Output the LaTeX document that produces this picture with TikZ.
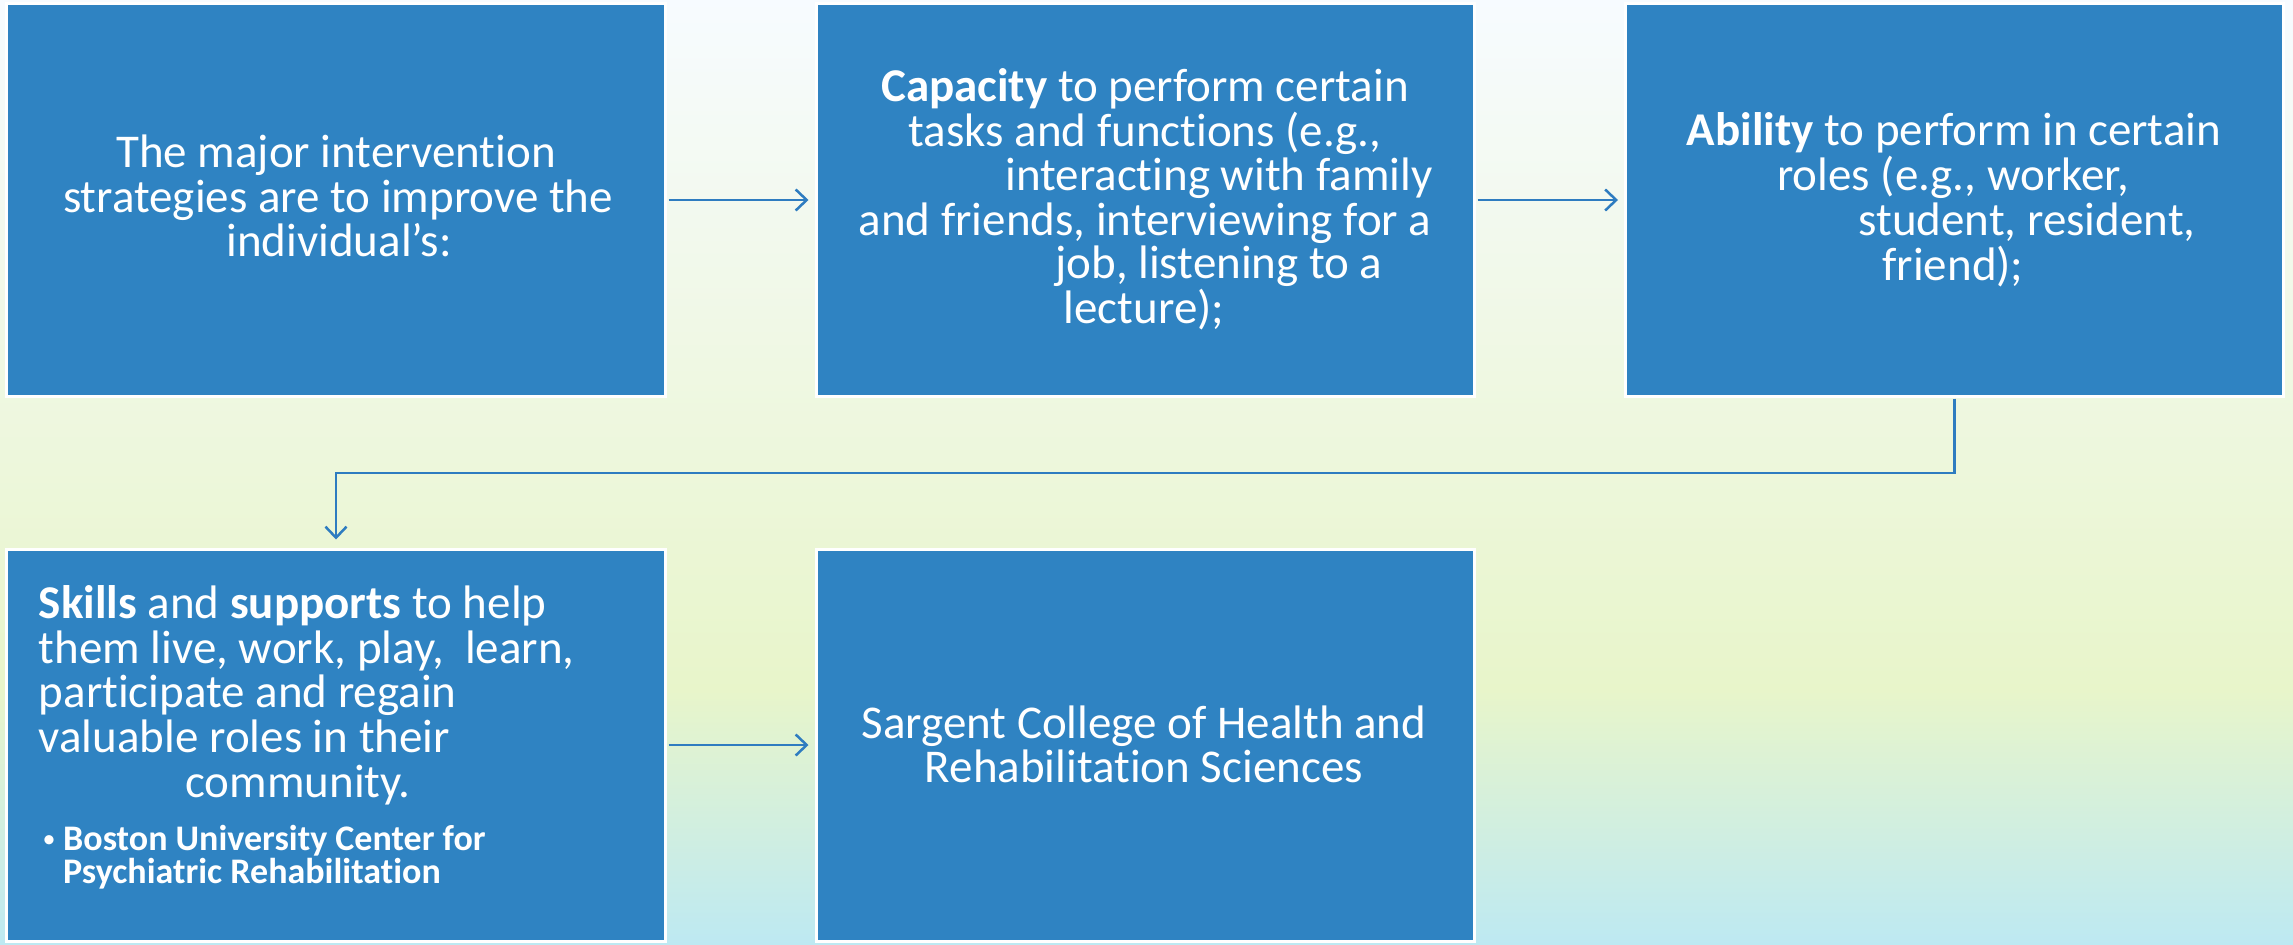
\documentclass[tikz,border=0pt]{standalone}
\usepackage{fontspec}
\setmainfont[Ligatures={NoCommon}]{Carlito}
\usetikzlibrary{arrows.meta}
\definecolor{boxblue}{HTML}{2F83C2}
\definecolor{linkblue}{HTML}{2E7CC0}
\definecolor{bgtop}{HTML}{F7FBFF}
\definecolor{bgmid}{HTML}{E8F5CA}
\definecolor{bgbot}{HTML}{BDE9F2}
\tikzset{
  stepbox/.style={rectangle, fill=boxblue, draw=white, line width=3bp,
    minimum width=658bp, minimum height=392bp, inner sep=0pt},
  line/.style={anchor=base, inner sep=0pt, text=white,
    font=\fontsize{47bp}{47bp}\selectfont},
  linew/.style={line, anchor=base west},
  small/.style={anchor=base west, inner sep=0pt, text=white,
    font=\fontsize{36bp}{36bp}\selectfont\bfseries},
  conn/.style={draw=linkblue, line width=2.5bp,
    -{Straight Barb[length=11bp,width=21bp]}}
}
\begin{document}
\begin{tikzpicture}[x=1bp,y=-1bp]
\useasboundingbox (0,0) rectangle (2293,944);
% background
\shade[top color=bgtop, bottom color=bgmid] (0,0) rectangle (2293,690);
\shade[top color=bgmid, bottom color=bgbot] (0,689.5) rectangle (2293,944);

% boxes
\node[stepbox] (b1) at (336,200) {};
\node[stepbox] (b2) at (1145,200) {};
\node[stepbox] (b3) at (1954.5,200) {};
\node[stepbox] (b4) at (336,745) {};
\node[stepbox] (b5) at (1145,745) {};

% box 1 text
\node[line] (t1a) at (336,167) {The major intervention};
\node[line] (t1b) at (338,212) {strategies are to improve the};
\node[line] (t1c) at (339,256) {individual’s:};

% box 2 text
\node[line] (t2a) at (1145,101) {\textbf{Capacity} to perform certain};
\node[line] (t2b) at (1145,146) {tasks and functions (e.g.,};
\node[line] (t2c) at (1219,190) {interacting with family};
\node[line] (t2d) at (1145,235) {and friends, interviewing for a};
\node[line] (t2e) at (1219,278) {job, listening to a};
\node[line] (t2f) at (1144,323) {lecture);};

% box 3 text
\node[line] (t3a) at (1954,145) {\textbf{Ability} to perform in certain};
\node[line] (t3b) at (1953,190) {roles (e.g., worker,};
\node[line] (t3c) at (2027,235) {student, resident,};
\node[line] (t3d) at (1953,280) {friend);};

% box 4 text
\node[linew] (t4a) at (38.7,618) {\textbf{Skills} and \textbf{supports} to help};
\node[linew] (t4b) at (38.7,663) {them live, work, play,\ \ learn,};
\node[linew] (t4c) at (38.7,707) {participate and regain};
\node[linew] (t4d) at (38.7,752) {valuable roles in their};
\node[line] (t4e) at (298,797) {community.};
\node[anchor=base, inner sep=0pt, text=white,
  font=\fontsize{26bp}{26bp}\selectfont] (t4bul) at (49,847) {•};
\node[small] (t4f) at (63,850) {Boston University Center for};
\node[small] (t4g) at (63,883) {Psychiatric Rehabilitation};

% box 5 text
\node[line] (t5a) at (1144,738) {Sargent College of Health and};
\node[line] (t5b) at (1144,782) {Rehabilitation Sciences};

% connectors
\draw[conn, shorten <=2bp, shorten >=6bp] (b1.east) -- (b2.west);
\draw[conn, shorten <=2bp, shorten >=6bp] (b2.east) -- (b3.west);
\coordinate (elb) at (1954.5,473);
\draw[conn, shorten <=1bp, shorten >=8bp] (b3.south) -- (elb) -| (b4.north);
\draw[conn, shorten <=2bp, shorten >=6bp] (b4.east) -- (b5.west);
\end{tikzpicture}
\end{document}
